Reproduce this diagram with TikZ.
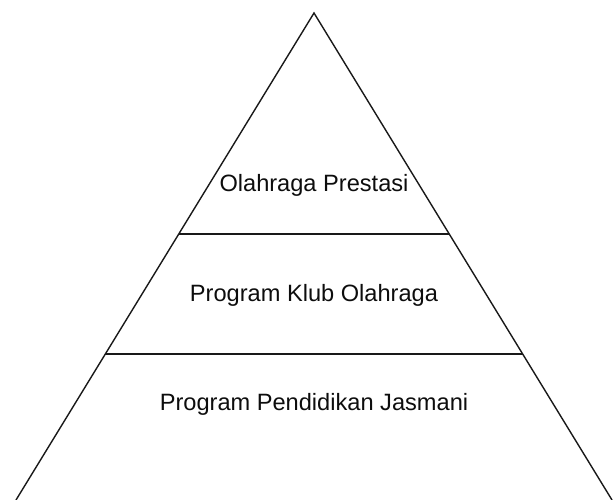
\documentclass[tikz,border=0pt]{standalone}
\usepackage{fontspec}
\setmainfont{Liberation Sans}
\usetikzlibrary{calc}
\begin{document}
\begin{tikzpicture}[x=1bp,y=-1bp,
  edge/.style={draw=black!90,line width=1.4bp},
  lbl/.style={font=\fontsize{23.7}{28}\selectfont,anchor=base,inner sep=0pt,text=black!95}]
\useasboundingbox (0,0) rectangle (615,500);
\coordinate (apex) at (314,13);
\coordinate (bl) at (16,500);
\coordinate (br) at (612,500);
\coordinate (l1) at ($(apex)!0.4538!(bl)$);
\coordinate (r1) at ($(apex)!0.4538!(br)$);
\coordinate (l2) at ($(apex)!0.7002!(bl)$);
\coordinate (r2) at ($(apex)!0.7002!(br)$);
\draw[edge] (bl) -- (apex) -- (br);
\draw[edge] (l1) -- (r1);
\draw[edge] (l2) -- (r2);
\node[lbl] (t1) at (314,192) {Olahraga Prestasi};
\node[lbl] (t2) at (314,301) {Program Klub Olahraga};
\node[lbl] (t3) at (314,410) {Program Pendidikan Jasmani};
\end{tikzpicture}
\end{document}
